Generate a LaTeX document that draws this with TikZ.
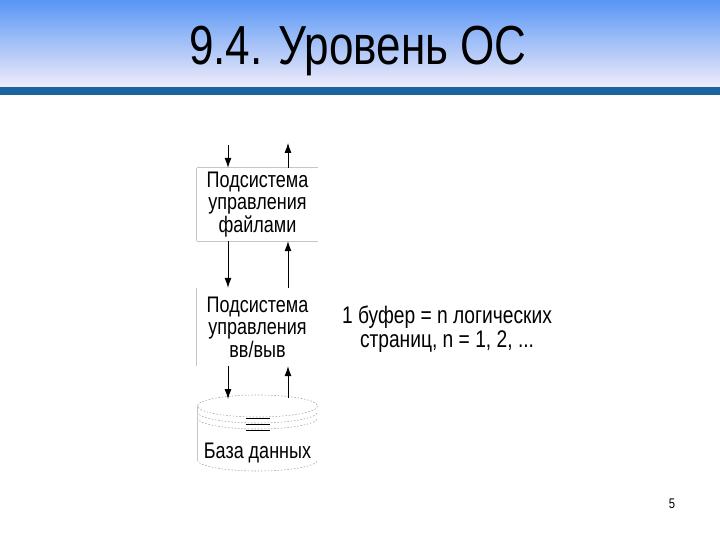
\documentclass[tikz,border=0pt]{standalone}
\usepackage{fontspec}
\setmainfont{Liberation Sans}
\newfontfamily\tallfont[FakeStretch=0.8]{Liberation Sans}
\usetikzlibrary{arrows.meta}

\definecolor{titletop}{RGB}{88,150,245}
\definecolor{titlebot}{RGB}{240,236,250}
\definecolor{barblue}{RGB}{28,100,160}

\tikzset{
  layer/.style={minimum width=121pt, align=center, inner sep=0pt,
    font=\tallfont\fontsize{22.5}{22.5}\selectfont},
  edge/.style={gray!45, line width=0.8pt},
  disk/.style={gray!70, line width=0.6pt, dash pattern=on 1.5pt off 1.8pt},
  flow/.style={-{Latex[length=10pt,width=7pt]}, line width=0.8pt},
}

\begin{document}
\begin{tikzpicture}[x=1pt, y=-1pt]
    \useasboundingbox (0,0) rectangle (720,540);

    % Title band
    \shade[top color=titletop, bottom color=titlebot] (0,0) rectangle (720,87);
    \fill[barblue] (0,87) rectangle (720,95);
    \node[font=\tallfont\fontsize{55}{60}\selectfont] (title) at (358,51) {9.4. Уровень ОС};

    % File subsystem
    \node[layer, minimum height=73pt] (files) at (257.5,204.5)
        {\raisebox{-2pt}{\parbox{121pt}{\centering Подсистема\\управления\\файлами}}};
    \draw[edge] (files.north west) -- (files.north east);
    \draw[edge] (files.south west) -- (files.south east);
    \draw[edge] (files.north west) -- (files.south west);

    % I/O subsystem
    \node[layer, minimum height=78pt] (io) at (257.5,327)
        {\raisebox{-2pt}{\parbox{121pt}{\centering Подсистема\\управления\\вв/выв}}};
    \draw[edge] (io.north west) -- (io.south west);

    % Database
    \node[layer, minimum height=76pt, anchor=north] (db) at (257.5,399) {};
    \coordinate (dbtop) at (257.5,406);
    \draw[disk] (dbtop) ellipse [x radius=60, y radius=11];
    \foreach \d in {6,12} {
        \draw[disk] ([yshift=-\d pt]dbtop) ++(-60,0)
            arc [start angle=180, end angle=0, x radius=60, y radius=11];
    }
    \foreach \d in {12,18,24} {
        \draw[line width=0.6pt] ([xshift=-12pt, yshift=-\d pt]dbtop)
            -- ([xshift=12pt, yshift=-\d pt]dbtop);
    }
    \draw[disk] (197.5,460) arc [start angle=180, end angle=0, x radius=60, y radius=11];
    \draw[edge] (197.5,406) -- (197.5,461);
    \node[font=\tallfont\fontsize{22.5}{22.5}\selectfont] (dbname) at (257.5,453) {База данных};

    % Requests down, replies up
    \coordinate (req) at (228,145);
    \coordinate (rep) at (288,143);
    \draw[flow] (req) -- (req |- files.north);
    \draw[flow] (rep |- files.north) -- (rep);
    \draw[flow] (req |- files.south) -- (req |- io.north);
    \draw[flow] (rep |- io.north) -- (rep |- files.south);
    \draw[flow] (req |- io.south) -- (req |- db.north);
    \draw[flow] ([yshift=1pt]rep |- db.north) -- (rep |- io.south);

    % Buffer note
    \node[align=center, font=\tallfont\fontsize{24}{24}\selectfont] (note) at (447,329)
        {1 буфер = n логических\\страниц, n = 1, 2, ...};

    \node[font=\tallfont\fontsize{14}{14}\selectfont] (page) at (672,504) {5};
\end{tikzpicture}
\end{document}
